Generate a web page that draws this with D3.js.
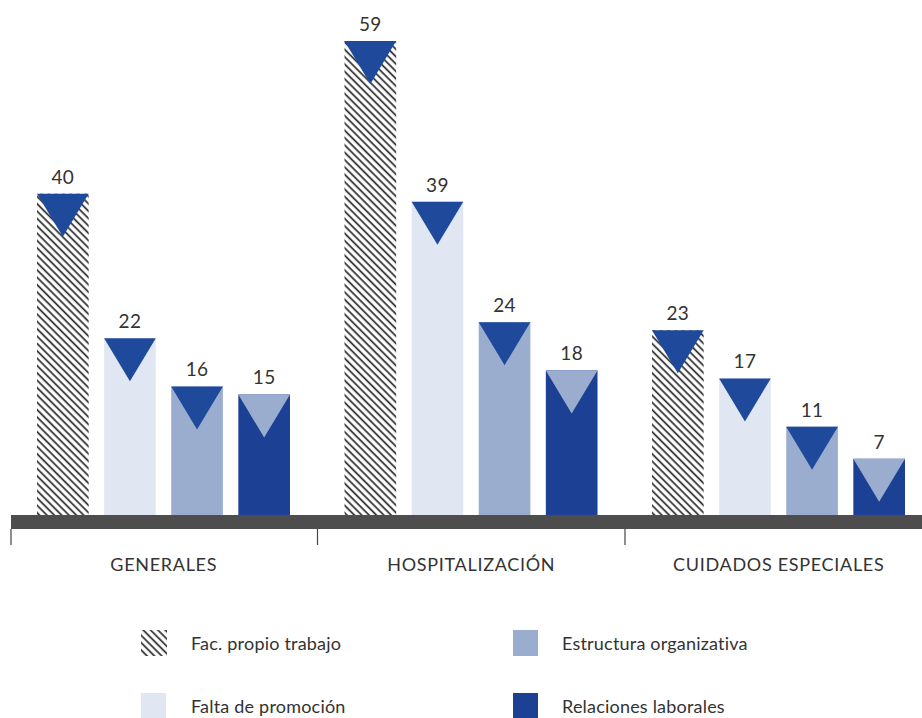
<!DOCTYPE html>
<html>
<head>
<meta charset="utf-8">
<script src="https://cdn.jsdelivr.net/npm/d3@7/dist/d3.min.js"></script>
<style>
  body { margin: 0; background: #fff; }
  svg { display: block; }
  text { font-family: Lato, "Open Sans", sans-serif; fill: #333; font-weight: 400; }
</style>
</head>
<body>
<div id="chart"></div>
<script>
// data
const categories = ['GENERALES', 'HOSPITALIZACIÓN', 'CUIDADOS ESPECIALES'];
const seriesNames = ['Fac. propio trabajo', 'Falta de promoción', 'Estructura organizativa', 'Relaciones laborales'];
const facPropio = [40, 59, 23];
const faltaPromocion = [22, 39, 17];
const estructuraOrg = [16, 24, 11];
const relacionesLab = [15, 18, 7];

const seriesValues = [facPropio, faltaPromocion, estructuraOrg, relacionesLab];

const w = 922, h = 718;
const baseY = 515;
const colors = ['url(#hatch)', '#e1e7f2', '#9aadcf', '#1c4194'];
const triColors = ['#1f4a9c', '#1f4a9c', '#1f4a9c', '#9aadcf'];

const svg = d3.select('#chart').append('svg')
  .attr('width', w)
  .attr('height', h);

// hatch pattern
const defs = svg.append('defs');
const pat = defs.append('pattern')
  .attr('id', 'hatch')
  .attr('patternUnits', 'userSpaceOnUse')
  .attr('width', 5.2)
  .attr('height', 5.2)
  .attr('patternTransform', 'rotate(-45)');
pat.append('rect').attr('width', 5.2).attr('height', 5.2).attr('fill', '#fff');
pat.append('line')
  .attr('x1', 1.5).attr('y1', 0).attr('x2', 1.5).attr('y2', 5.2)
  .attr('stroke', '#2a2a2a')
  .attr('stroke-width', 1.7);

// scales
const x0 = d3.scaleBand()
  .domain(categories)
  .range([10, 932.5]);

const x1 = d3.scaleBand()
  .domain(seriesNames)
  .range([27, 280])
  .paddingInner(0.23)
  .paddingOuter(0);

const y = d3.scaleLinear()
  .domain([0, 59])
  .range([baseY, 41]);

const rows = [];
categories.forEach((c, ci) => {
  seriesNames.forEach((s, si) => {
    rows.push({ cat: c, series: s, si: si, value: seriesValues[si][ci] });
  });
});

const bars = svg.append('g').selectAll('g.bar')
  .data(rows)
  .enter()
  .append('g')
  .attr('class', 'bar')
  .attr('transform', d => `translate(${x0(d.cat) + x1(d.series)},0)`);

const bw = x1.bandwidth();

bars.append('rect')
  .attr('x', 0)
  .attr('y', d => y(d.value))
  .attr('width', bw)
  .attr('height', d => baseY - y(d.value))
  .attr('fill', d => colors[d.si]);

// inverted triangle on top of each bar
bars.append('path')
  .attr('d', d => {
    const t = y(d.value);
    return `M0,${t} L${bw},${t} L${bw / 2},${t + 43} Z`;
  })
  .attr('fill', d => triColors[d.si]);

bars.append('text')
  .attr('x', bw / 2)
  .attr('y', d => y(d.value) - 10)
  .attr('text-anchor', 'middle')
  .style('font-size', '19px')
  .style('letter-spacing', '0.3px')
  .text(d => d.value);

// axis band
svg.append('rect')
  .attr('x', 11)
  .attr('y', baseY)
  .attr('width', w - 11)
  .attr('height', 14)
  .attr('fill', '#4d4d4d');

const ticks = [x0.range()[0] + 1].concat(categories.slice(1).map(c => x0(c)));
svg.append('g').selectAll('line')
  .data(ticks)
  .enter()
  .append('line')
  .attr('x1', d => d).attr('x2', d => d)
  .attr('y1', baseY + 14).attr('y2', baseY + 30)
  .attr('stroke', '#444')
  .attr('stroke-width', 1.2);

svg.append('g').selectAll('text')
  .data(categories)
  .enter()
  .append('text')
  .attr('x', d => x0(d) + x0.bandwidth() / 2)
  .attr('y', 571)
  .attr('text-anchor', 'middle')
  .style('font-size', '18px')
  .style('letter-spacing', '0.7px')
  .text(d => d);

// legend
const legendPos = [[141, 630], [141, 693], [513, 630], [513, 693]];
const legend = svg.append('g').selectAll('g.legend-item')
  .data(seriesNames)
  .enter()
  .append('g')
  .attr('class', 'legend-item')
  .attr('transform', (d, i) => `translate(${legendPos[i][0]},${legendPos[i][1]})`);

legend.append('rect')
  .attr('width', (d, i) => i === 0 ? 26 : 25)
  .attr('height', 26)
  .attr('fill', (d, i) => colors[i]);

legend.append('text')
  .attr('x', (d, i) => i < 2 ? 50 : 49)
  .attr('y', 20)
  .style('font-size', '18px')
  .style('letter-spacing', '0.2px')
  .text(d => d);
</script>
</body>
</html>
